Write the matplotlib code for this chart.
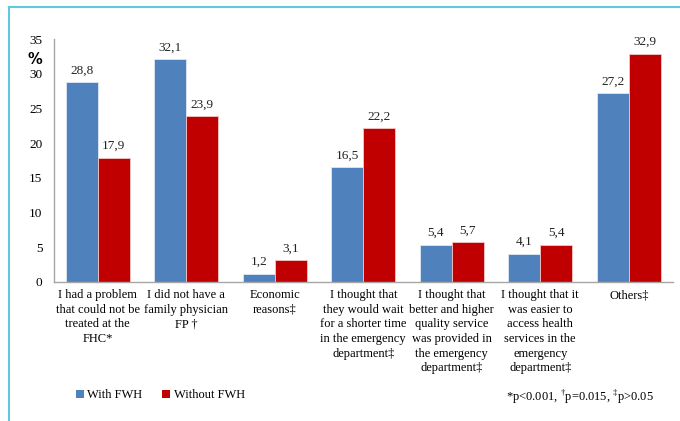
import matplotlib
matplotlib.use('Agg')
import matplotlib.pyplot as plt
import numpy as np
from matplotlib.patches import Patch
from matplotlib.lines import Line2D
from matplotlib.transforms import blended_transform_factory

categories = [
    'I had a problem\nthat could not be\ntreated at the\nFHC*',
    'I did not have a\nfamily physician\nFP †',
    'Economic\nreasons‡',
    'I thought that\nthey would wait\nfor a shorter time\nin the emergency\ndepartment‡',
    'I thought that\nbetter and higher\nquality service\nwas provided in\nthe emergency\ndepartment‡',
    'I thought that it\nwas easier to\naccess health\nservices in the\nemergency\ndepartment‡',
    'Others‡',
]
with_fwh = [28.8, 32.1, 1.2, 16.5, 5.4, 4.1, 27.2]
without_fwh = [17.9, 23.9, 3.1, 22.2, 5.7, 5.4, 32.9]
series_names = ['With FWH', 'Without FWH']
yticks = [0, 5, 10, 15, 20, 25, 30, 35]

BLUE = '#4f81bd'; RED = '#c00000'; FRAME = '#62c8e2'
plt.rcParams['font.family'] = ['Liberation Serif', 'DejaVu Serif']
plt.rcParams['mathtext.fontset'] = 'custom'
plt.rcParams['mathtext.rm'] = 'Liberation Serif'

W, H = 680, 421
fig = plt.figure(figsize=(W / 100, H / 100), dpi=100)
ax = fig.add_axes([53.5 / W, 1 - 282 / H, (673 - 53.5) / W, (282 - 39) / H])

x = np.arange(len(categories)); bw = 32 / 88.5
b1 = ax.bar(x - bw / 2, with_fwh, bw, color=BLUE, edgecolor='#dfe8f3', linewidth=0.6)
b2 = ax.bar(x + bw / 2, without_fwh, bw, color=RED, edgecolor='#f3c9c9', linewidth=0.6)
for bars, vals in ((b1, with_fwh), (b2, without_fwh)):
    for r, v in zip(bars, vals):
        ax.annotate(f'{v:.1f}'.replace('.', ','), (r.get_x() + r.get_width() / 2, v), xytext=(0, 4),
                    textcoords='offset points', ha='center', va='bottom', fontsize=9.5, color='#222222')

ax.set_xlim(-0.5, len(categories) - 0.5); ax.set_ylim(0, 35)
ax.set_yticks(yticks); ax.set_yticklabels([str(t) for t in yticks], fontsize=9.5)
ax.set_xticks(x); ax.set_xticklabels([])
ax.tick_params(axis='y', length=0, pad=8)
ax.tick_params(axis='x', length=0)
trans = blended_transform_factory(ax.transData, fig.transFigure)
for xi, lab in zip(x, categories):
    ax.text(xi, 1 - 289 / H, lab, transform=trans, ha='center', va='top', fontsize=9, linespacing=1.3,
            multialignment='center')
for s in ('top', 'right'): ax.spines[s].set_visible(False)
for s in ('left', 'bottom'): ax.spines[s].set_color('#a6a6a6'); ax.spines[s].set_linewidth(1.0)
fig.text(27 / W, 1 - 60 / H, '%', fontsize=10.5, fontweight='bold', family='DejaVu Sans', va='center', ha='left')

handles = [Patch(facecolor=BLUE), Patch(facecolor=RED)]
fig.legend(handles, series_names, loc='center left', bbox_to_anchor=(76 / W, 1 - 395 / H), ncol=2, frameon=False,
           fontsize=9, handlelength=0.6, handleheight=0.6, handletextpad=0.3, columnspacing=1.6, borderpad=0, borderaxespad=0)
fig.text(506 / W, 1 - 397 / H, '*p<0.001, $^{\\mathrm{†}}$p=0.015, $^{\\mathrm{‡}}$p>0.05', fontsize=9, va='center', ha='left')

fig.add_artist(Line2D([8.5 / W, 1], [1 - 7 / H, 1 - 7 / H], color=FRAME, lw=1.5, transform=fig.transFigure))
fig.add_artist(Line2D([8.5 / W, 8.5 / W], [0, 1 - 7 / H], color=FRAME, lw=1.5, transform=fig.transFigure))

fig.savefig('out.png', dpi=100, facecolor='white')
